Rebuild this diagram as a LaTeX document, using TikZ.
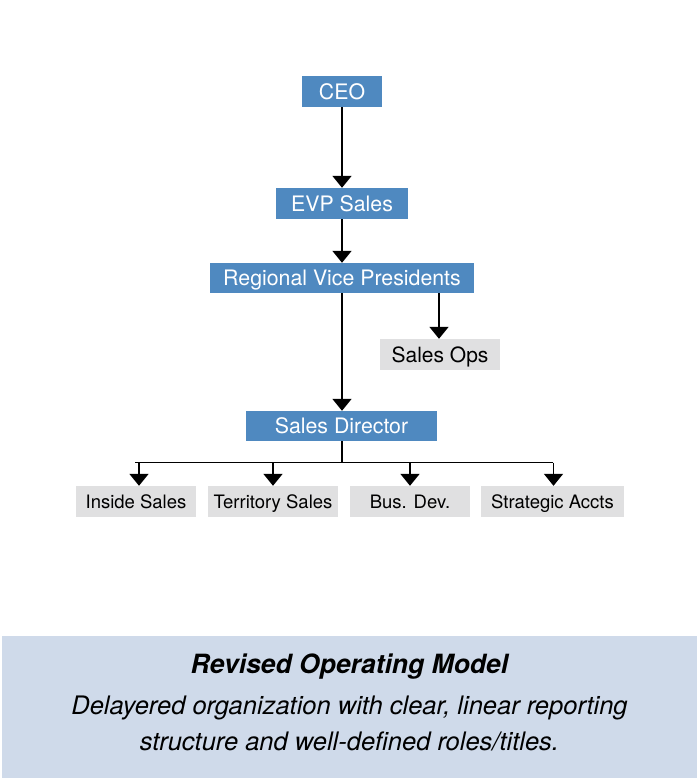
\documentclass[tikz,border=0pt]{standalone}
\usepackage{fontspec}
\setmainfont{TeX Gyre Heros}
\usetikzlibrary{arrows.meta}
\definecolor{boxblue}{HTML}{4F89C0}
\definecolor{boxgray}{HTML}{E0E0E1}
\definecolor{panelblue}{HTML}{CFDAEA}
\tikzset{
  bluebox/.style={fill=boxblue, text=white, inner sep=0pt, minimum height=31pt, text height=15.2pt, text depth=0pt, font=\fontsize{21.3}{24}\selectfont},
  graybox/.style={fill=boxgray, text=black, inner sep=0pt, minimum height=31pt, text height=13.3pt, text depth=0pt, font=\fontsize{18.5}{22}\selectfont},
  conn/.style={line width=1.8pt, -{Triangle[width=19pt,length=12pt]}},
  plainline/.style={line width=1.8pt},
  paneltext/.style={align=center, inner sep=0pt}
}
\begin{document}
\begin{tikzpicture}[x=1pt,y=-1pt]
\useasboundingbox (0,0) rectangle (698,779);
\fill[panelblue] (2,636) rectangle (697,778);
\node[bluebox, minimum width=80pt] (ceo) at (342,91.5) {CEO};
\node[bluebox, minimum width=132pt] (evp) at (342,203.5) {EVP Sales};
\node[bluebox, minimum width=264pt, minimum height=30pt] (rvp) at (342,278) {Regional Vice Presidents};
\node[graybox, minimum width=120pt, text height=15pt, font=\fontsize{21}{24}\selectfont] (ops) at (440,354.5) {Sales Ops};
\node[bluebox, minimum width=191pt, minimum height=30pt] (sd) at (341.5,426) {Sales Director};
\node[graybox, minimum width=120pt] (inside) at (136,501.5) {Inside Sales};
\node[graybox, minimum width=130pt] (terr) at (273,501.5) {Territory Sales};
\node[graybox, minimum width=120pt] (bus) at (410,501.5) {Bus. Dev.};
\node[graybox, minimum width=143pt] (strat) at (552.5,501.5) {Strategic Accts};
\coordinate (bus-mid) at (342,462.5);
\draw[conn] (ceo) -- (evp);
\draw[conn] (evp) -- (rvp);
\draw[conn] (rvp.south) -- (sd.north -| rvp.south);
\draw[conn] (ops.north |- rvp.south) ++(-1,0) -- ([xshift=-1pt]ops.north);
\draw[plainline] (sd.south -| bus-mid) -- (bus-mid);
\draw[plainline] ([xshift=-0.9pt]bus-mid -| inside.north) -- ([xshift=0.9pt]bus-mid -| strat.north);
\draw[conn] (bus-mid -| inside.north) ++(3,0) -- ([xshift=3pt]inside.north);
\draw[conn] (bus-mid -| terr.north) -- (terr.north);
\draw[conn] (bus-mid -| bus.north) -- (bus.north);
\draw[conn] (bus-mid -| strat.north) ++(1,0) -- ([xshift=1pt]strat.north);
\node[paneltext, font=\bfseries\itshape\fontsize{26.5}{30}\selectfont] (title) at (349.5,667) {Revised Operating Model};
\node[paneltext, font=\itshape\fontsize{25.5}{36}\selectfont] (desc) at (349.5,723) {Delayered organization with clear, linear reporting\\structure and well-defined roles/titles.};
\end{tikzpicture}
\end{document}
